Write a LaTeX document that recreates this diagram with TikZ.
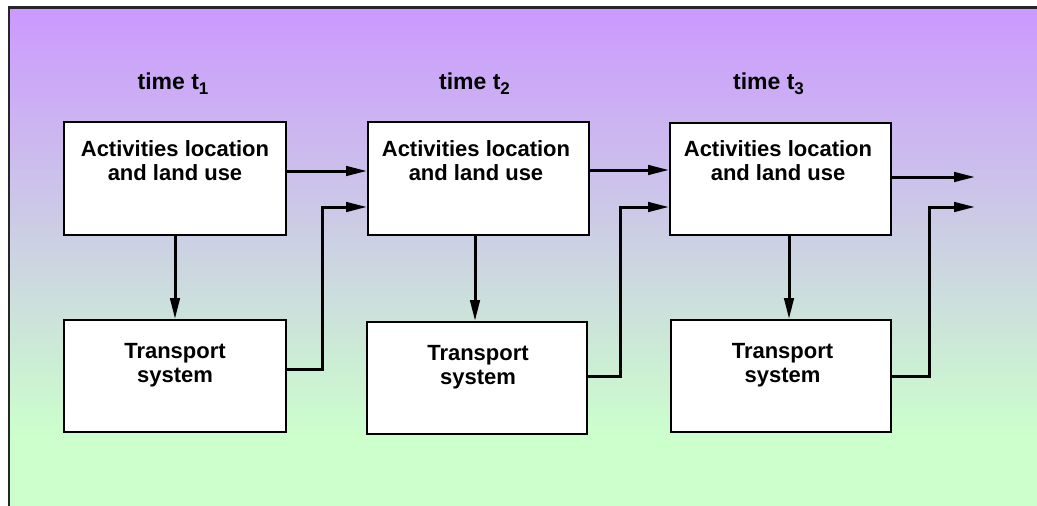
\documentclass[tikz,border=0pt]{standalone}
\usepackage{fontspec}
\setmainfont{Liberation Sans}
\usetikzlibrary{arrows.meta}

\definecolor{topviolet}{RGB}{204,153,255}
\definecolor{bottomgreen}{RGB}{204,255,204}

\tikzset{
  stagebox/.style={draw=black, line width=2pt, fill=white, inner sep=0pt,
    minimum width=221pt},
  boxtext/.style={anchor=north, inner sep=0pt, align=center,
    font=\bfseries\fontsize{22}{24}\selectfont},
  timelabel/.style={anchor=base, inner sep=0pt,
    font=\bfseries\fontsize{23}{24}\selectfont},
  flow/.style={line width=3pt, -{Triangle[length=21pt,width=9.5pt]}}
}

\newcommand{\tsub}[1]{t\raisebox{-5pt}{\fontsize{17}{17}\selectfont #1}}

\begin{document}
\begin{tikzpicture}[x=1pt,y=-1pt]
  \useasboundingbox (0,0) rectangle (1037,506);

  % gradient panel, built from thin horizontal bands
  \fill[bottomgreen] (9,440) rectangle (1037,506);
  \foreach \i in {0,...,95} {
    \pgfmathsetmacro{\pct}{100-\i*100/95}
    \pgfmathsetmacro{\ytop}{7.5+\i*4.5}
    \fill[topviolet!\pct!bottomgreen] (9,\ytop) rectangle (1037,\ytop+5);
  }
  \draw[line width=2.2pt, black!85] (9,506) -- (9,7.5) -- (1037,7.5);

  % time labels
  \node[timelabel] (h1) at (173,89.5) {time \tsub{1}};
  \node[timelabel] (h2) at (474.5,89.5) {time \tsub{2}};
  \node[timelabel] (h3) at (768.5,89.5) {time \tsub{3}};

  % activity boxes
  \node[stagebox, minimum width=222pt, minimum height=113pt] (a1) at (175,178.5) {};
  \node[stagebox, minimum width=221pt, minimum height=113pt] (a2) at (478.5,178.5) {};
  \node[stagebox, minimum width=221pt, minimum height=112pt] (a3) at (780.5,179) {};

  % transport boxes
  \node[stagebox, minimum width=222pt, minimum height=112pt] (t1) at (175,376) {};
  \node[stagebox, minimum width=220pt, minimum height=112pt] (t2) at (477,378) {};
  \node[stagebox, minimum width=220pt, minimum height=112pt] (t3) at (781,376) {};

  % box texts
  \node[boxtext] (a1l) at (175,140) {Activities location\\and land use};
  \node[boxtext] (a2l) at (476,140) {Activities location\\and land use};
  \node[boxtext] (a3l) at (778,140.5) {Activities location\\and land use};
  \node[boxtext] (t1l) at (175,343) {Transport\\system};
  \node[boxtext] (t2l) at (478,345) {Transport\\system};
  \node[boxtext] (t3l) at (782.5,343) {Transport\\system};

  % bends and loose ends
  \coordinate (k1) at (322,207);
  \coordinate (k2) at (620,207);
  \coordinate (k3) at (929,207);
  \coordinate (out1) at (975,177);
  \coordinate (out2) at (975,207);

  % land use carried to the next period
  \draw[flow] (a1.east |- 0,171) -- (a2.west |- 0,171);
  \draw[flow] (a2.east |- 0,170) -- (a3.west |- 0,170);
  \draw[flow] (a3.east |- 0,177) -- (out1);

  % land use shaping the transport system
  \draw[flow] (a1.south -| 175,0) -- (t1.north -| 175,0);
  \draw[flow] (a2.south -| 475,0) -- (t2.north -| 475,0);
  \draw[flow] (a3.south -| 789,0) -- (t3.north -| 789,0);

  % transport feeding back into the next period
  \draw[flow] (t1.east |- 0,369) -| (k1) -- (a2.west |- k1);
  \draw[flow] (t2.east |- 0,376) -| (k2) -- (a3.west |- k2);
  \draw[flow] (t3.east |- 0,376) -| (k3) -- (out2);
\end{tikzpicture}
\end{document}
